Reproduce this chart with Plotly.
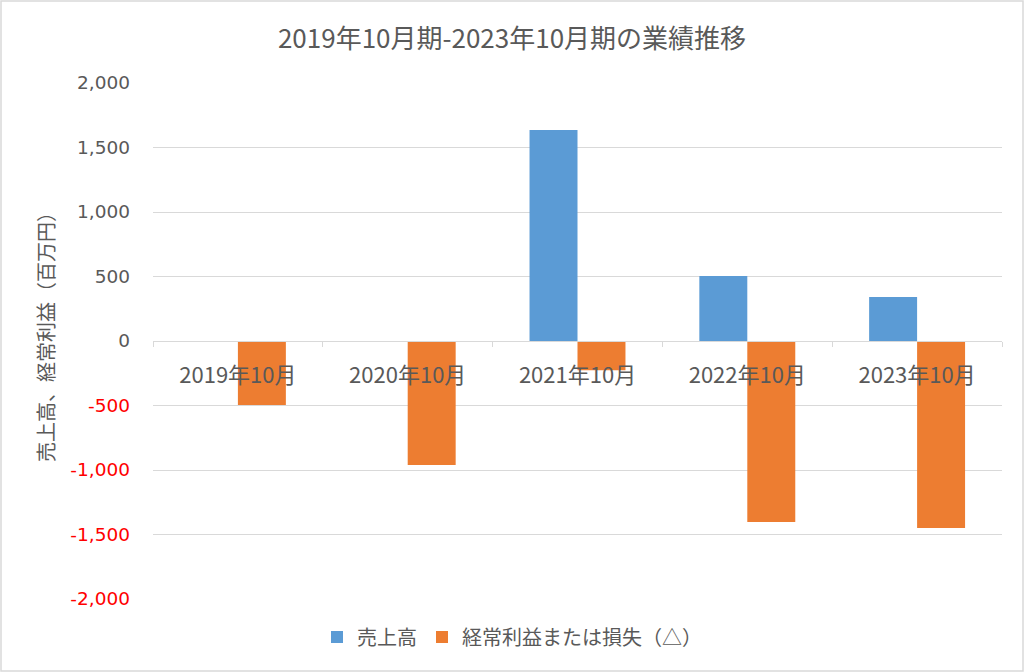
import plotly.graph_objects as go

categories = ["2019年10月", "2020年10月", "2021年10月", "2022年10月", "2023年10月"]
sales = [0, 0, 1635, 503, 342]
ordinary_profit = [-497, -962, -226, -1403, -1450]
series_names = ["売上高", "経常利益または損失（△）"]
y_tickvals = [2000, 1500, 1000, 500, 0, -500, -1000, -1500, -2000]
y_title = "売上高、経常利益（百万円）"

GRAY = "#595959"
CJK = "Noto Sans CJK JP"

def fmt(v):
    s = f"{v:,}"
    if v < 0:
        return f'<span style="color:#FF0000">{s}</span>'
    return s

fig = go.Figure()
fig.add_trace(go.Bar(x=categories, y=sales, name=series_names[0],
                     marker=dict(color="#5B9BD5", line=dict(width=0))))
fig.add_trace(go.Bar(x=categories, y=ordinary_profit, name=series_names[1],
                     marker=dict(color="#ED7D31", line=dict(width=0))))

fig.update_layout(
    width=1024, height=672,
    paper_bgcolor="white", plot_bgcolor="white",
    margin=dict(l=153, r=22, t=83, b=73, autoexpand=False),
    barmode="group", bargap=0.435, bargroupgap=0,
    title=dict(text="2019年10月期-2023年10月期の業績推移", x=0.5, xref="container",
               y=1 - 39 / 672, yref="container", yanchor="middle",
               font=dict(family=CJK, size=26, color=GRAY)),
    legend=dict(orientation="h", xref="container", yref="container",
                x=0.5, xanchor="center", y=1 - 637 / 672, yanchor="middle",
                font=dict(family=CJK, size=20, color=GRAY), itemwidth=30,
                bgcolor="rgba(0,0,0,0)", traceorder="normal"),
    xaxis=dict(anchor="free", position=0.5, showline=True, linecolor="#D9D9D9", linewidth=1,
               ticks="outside", tickson="boundaries", ticklen=5, tickcolor="#D9D9D9",
               showgrid=False, ticklabelstandoff=15,
               tickfont=dict(family=CJK, size=22, color=GRAY)),
    yaxis=dict(range=[-2000, 2000], tickvals=y_tickvals, ticktext=[fmt(v) for v in y_tickvals],
               showgrid=True, gridcolor="#D9D9D9", gridwidth=1, zeroline=False,
               ticks="", ticklabelstandoff=22,
               tickfont=dict(family="DejaVu Sans", size=18.5, color=GRAY)),
)

fig.add_annotation(text=y_title, textangle=-90, xref="paper", yref="paper",
                   x=(45 - 153) / 849, y=(599 - 332) / 516, xanchor="center", yanchor="middle",
                   showarrow=False, font=dict(family=CJK, size=20, color=GRAY))

fig.add_shape(type="rect", xref="paper", yref="paper",
              x0=-152 / 849, x1=1 + 21 / 849, y0=-72 / 516, y1=1 + 82 / 516,
              line=dict(color="#D9D9D9", width=1.5), layer="below")

fig.write_html("out.html")
